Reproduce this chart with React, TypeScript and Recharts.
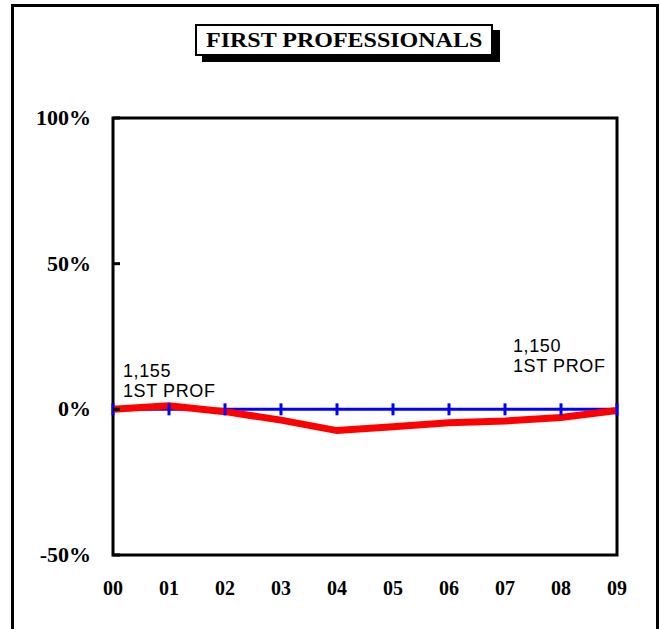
import React from "react";
import {
  LineChart,
  Line,
  XAxis,
  YAxis,
  ReferenceArea,
} from "recharts";

const years = ["00", "01", "02", "03", "04", "05", "06", "07", "08", "09"];
const baseline = [0, 0, 0, 0, 0, 0, 0, 0, 0, 0];
const firstProf = [0, 1.2, -0.8, -3.7, -7.3, -6.0, -4.6, -4.0, -2.8, -0.4];
const yTicks = [-50, 0, 50, 100];
const startLabel = ["1,155", "1ST PROF"];
const endLabel = ["1,150", "1ST PROF"];

const data = years.map((year, i) => ({
  year,
  base: baseline[i],
  prof: firstProf[i],
}));

const serif = "'Liberation Serif', 'Times New Roman', serif";
const sans = "'Liberation Sans', Arial, sans-serif";

const YTick = ({ y, payload }: any) => (
  <g>
    <line x1={113} x2={120} y1={y} y2={y} stroke="#000" strokeWidth={3} />
    <text
      transform={`translate(91, ${y + 7}) scale(1.1, 1)`}
      textAnchor="end"
      fontFamily={serif}
      fontWeight="bold"
      fontSize={20}
      fill="#000"
    >
      {`${payload.value}%`}
    </text>
  </g>
);

const XTick = ({ x, payload }: any) => (
  <text
    x={x}
    y={595}
    textAnchor="middle"
    fontFamily={serif}
    fontWeight="bold"
    fontSize={20}
    fill="#000"
  >
    {payload.value}
  </text>
);

const TickDot = ({ cx, cy }: any) => (
  <line x1={cx} x2={cx} y1={cy - 6} y2={cy + 6} stroke="#0000FF" strokeWidth={3} />
);

const EndLabel = ({ x, y, index }: any) => {
  const last = years.length - 1;
  if (index !== 0 && index !== last) return null;
  const lines = index === 0 ? startLabel : endLabel;
  const tx = index === 0 ? x + 10 : x - 104;
  const ty = index === 0 ? y - 32 : y - 58;
  return (
    <g>
      {lines.map((t, i) => (
        <text
          key={i}
          x={tx}
          y={ty + i * 20}
          fontFamily={sans}
          fontSize={18}
          letterSpacing={0.6}
          fill="#000"
        >
          {t}
        </text>
      ))}
    </g>
  );
};

export default function App() {
  return (
    <div
      style={{
        position: "absolute",
        left: 0,
        top: 0,
        width: 660,
        height: 629,
        overflow: "hidden",
        background: "#fff",
      }}
    >
      <div
        style={{
          position: "absolute",
          left: 11,
          top: 4,
          width: 642,
          height: 660,
          border: "3px solid #000",
        }}
      />
      <div
        style={{
          position: "absolute",
          left: 195,
          top: 24,
          width: 294,
          height: 28,
          border: "2px solid #000",
          background: "#fff",
          boxShadow: "7px 6px 0 #000",
          fontFamily: serif,
          fontWeight: "bold",
          fontSize: 20,
          lineHeight: "29px",
          textAlign: "center",
          zIndex: 2,
        }}
      >
        <span style={{ display: "inline-block", transform: "scaleX(1.2)" }}>
          FIRST PROFESSIONALS
        </span>
      </div>
      <div style={{ position: "absolute", left: 0, top: 0 }}>
        <LineChart
          width={660}
          height={629}
          data={data}
          margin={{ top: 118, right: 43, bottom: 34, left: 13 }}
        >
          <XAxis
            dataKey="year"
            interval={0}
            height={40}
            axisLine={false}
            tickLine={false}
            tick={<XTick />}
          />
          <YAxis
            type="number"
            domain={[-50, 100]}
            ticks={yTicks}
            width={100}
            axisLine={false}
            tickLine={false}
            tick={<YTick />}
          />
          <ReferenceArea
            x1="00"
            x2="09"
            y1={-50}
            y2={100}
            fill="none"
            stroke="#000"
            strokeWidth={3}
          />
          <Line
            type="linear"
            dataKey="base"
            stroke="#0000FF"
            strokeWidth={3}
            dot={<TickDot />}
            activeDot={false}
            isAnimationActive={false}
          />
          <Line
            type="linear"
            dataKey="prof"
            stroke="#FF0000"
            strokeWidth={7}
            dot={false}
            activeDot={false}
            label={<EndLabel />}
            isAnimationActive={false}
          />
        </LineChart>
      </div>
    </div>
  );
}
